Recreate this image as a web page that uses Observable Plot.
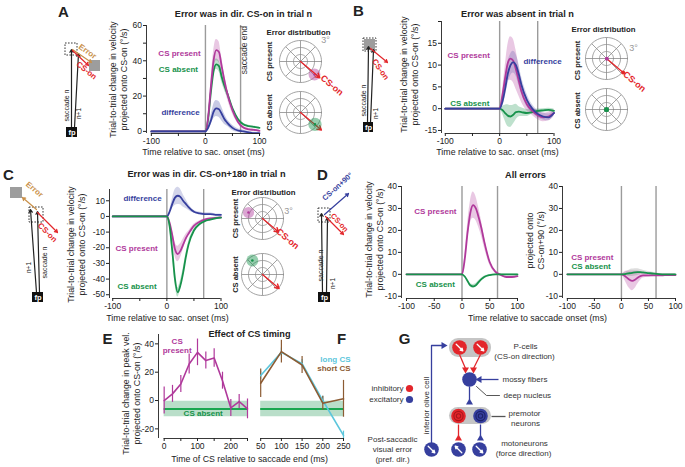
<!DOCTYPE html>
<html><head><meta charset="utf-8">
<script src="https://cdn.jsdelivr.net/npm/d3@7"></script>
<script src="https://cdn.jsdelivr.net/npm/@observablehq/plot@0.6"></script>
<style>
html,body{margin:0;padding:0;background:#fff;}
#fig{position:relative;width:685px;height:467px;overflow:hidden;background:#fff;}
#fig svg{overflow:visible;max-width:none !important;background:transparent !important;}
</style></head><body><div id="fig"></div>
<script>
// ================= DATA =================
const timeMs = [-100,-50,0,5,10,15,20,25,30,35,40,50,60,70,80,90,100];
// A: error in dir. CS-on
const aPresent    = [0,0,0,8,25,40,46,45,37,29,22,12,5.5,2.2,1.2,0.8,0.3];
const aPresentErr = [0,0,0,1,3,5,6,6,5,4,3,2,1,0.8,0.6,0.5,0.5];
const aAbsent     = [0,0,0,7,22,34,38,37,31,26,22,13,7,4,3,2.5,2];
const aAbsentErr  = [0,0,0,1,2,3,3,3,3,2.5,2,1.2,0.8,0.6,0.5,0.5,0.5];
const aDiff       = [0,0,0,2,6,11,13,12.5,10,7,5,2,0.5,0,-0.5,-1,-1];
const aDiffErr    = [0,0,0,1,2.5,4,4.5,4.5,4,3,2,1.5,1,0.8,0.6,0.5,0.5];
// B: error absent
const bPresent    = [0,0,0,3,7,10.5,11.5,11,9,6.5,4,1,-0.5,-1.5,-2,-1.8,-1];
const bPresentErr = [0,0,0,1,2.5,4,5,5,4.5,3.5,2.5,1.5,1,1,1,1,0.8];
const bDiff       = [0,0,0,1.5,4.5,8,10,10.7,10,8,5.5,2,0,-1.2,-1.8,-2,-1];
const bDiffErr    = [0,0,0,1,2,2.5,2.5,2.5,2.5,2.5,2,1.5,1,0.8,0.8,0.8,0.6];
const bAbsent     = [0,0,0,-0.3,-1,-1.6,-1.8,-1.4,-0.8,-0.7,-0.8,-1,-0.8,-0.5,-0.4,-0.3,-0.5];
const bAbsentErr  = [0,0,0,0.8,1.8,2.5,2.5,2.2,1.8,1.2,1,0.8,0.5,0.4,0.4,0.4,0.4];
// C: error in dir. CS-on+180
const cDiff       = [0,0,0,3,8,12,13.2,12.5,10,8,6,3,2,1.5,1.5,1,1];
const cDiffErr    = [0,0,0,1,3,5,5.5,5,4,3,2,1,0.8,0.8,0.8,0.6,0.6];
const cPresent    = [0,0,0,-4,-12,-21,-24,-22,-18,-14,-11,-6,-3.5,-2,-1.3,-1,-0.6];
const cPresentErr = [0,0,0,1,3,4.5,5,4.5,3.5,2.5,1.5,1,0.6,0.5,0.5,0.5,0.5];
const cAbsent     = [0,0,0,-6,-22,-40,-48.5,-44,-36,-26,-18,-9,-5,-3,-2,-1.2,-0.8];
const cAbsentErr  = [0,0,0,1,2,3,3,3,2.5,2,1.5,1,0.6,0.5,0.5,0.5,0.5];
// D: all errors, projected onto CS-on and CS-on+90
const dPresent      = [0,0,0,7,19,28,31.5,30,26,21,15,5.5,1.2,-0.3,-1.2,-1.2,-0.8];
const dPresentErr   = [0,0,0,1.5,3.5,5,6,5.5,4.5,3.5,2.5,1.2,0.6,0.5,0.5,0.5,0.5];
const dAbsent       = [0,0,0,-1,-3,-5,-5.5,-5,-3.5,-2.2,-1.2,-0.3,0,0,0,0,0];
const dAbsentErr    = [0,0,0,0.3,0.6,0.8,0.9,0.8,0.6,0.4,0.3,0.2,0.2,0.2,0.2,0.2,0.2];
const d90Present    = [0,0,0,-0.5,-1.5,-2.5,-3,-2.5,-1.5,-0.8,-0.5,-0.5,-0.5,-0.5,-0.4,-0.3,-0.3];
const d90PresentErr = [0,0,0,1.5,3,4,4.5,4,3,2,1.2,0.8,0.5,0.5,0.5,0.5,0.5];
const d90Absent     = [0,0,0,0.1,0.3,0.5,0.7,0.9,1,1,0.9,0.6,0.3,0.1,0,0,0];
const d90AbsentErr  = [0,0,0,0.5,1,1.5,1.7,1.7,1.5,1.2,1,0.7,0.5,0.3,0.3,0.3,0.3];
const sacEnd = {A:65, B:70, C:68, D:64};
// E: effect of CS timing
const eTime       = [0,25,50,75,100,125,150,175,200,225,250];
const ePresent    = [0,4.7,11.7,25.8,34,28.2,30,14,-5.2,-0.7,-5.9];
const ePresentErr = [9.5,6,6,7,9.4,6,6.5,6,6,5,7];
const csAbsentMean = -6;
const csAbsentErr  = 5.5;
// F: long vs short CS
const fTime      = [50,100,150,200,250];
const fLong      = [17.6,34,26,0,-24.6];
const fLongErr   = [3,3,3,3,3];
const fShort     = [12.2,34.5,25.1,-1.9,1.2];
const fShortErr  = [10,8,6,5,13];
// error distributions (deg, relative to trial-n target) for A, B, C
const errPresentX = [2.0, 0.05, -2.0];
const errPresentY = [-1.85, -0.05, 0.85];
const errPresentSpread = [0.85, 0.1, 0.8];
const errAbsentX = [2.07, 0, -1.45];
const errAbsentY = [-1.7, 0, 2.0];
const errAbsentSpread = [0.95, 0.15, 0.85];
const csOnDirDeg = -40;
// tick labels
const tSacTicks = [-100,-50,0,50,100];
const tSacLabels = ["-100","","0","","100"];
const tSacLabelsAll = ["-100","-50","0","50","100"];
const aYTicks = [0,10,20,30,40,50,60], aYLabels = ["0","","20","","40","","60"];
const bYTicks = [-5,0,5,10,15,20], bYLabels = ["-15","0","5","10","15",""];
const cYTicks = [-50,-40,-30,-20,-10,0,10], cYLabels = ["-50","-40","-30","-20","-10","0","10"];
const dYTicks = [-10,0,10,20,30,40], dYLabels = ["-10","0","10","20","30","40"];
const eYTicks = [-20,0,20,40], eYLabels = ["-20","0","20","40"];
const eXTicks = [0,50,100,150,200,250], eXLabels = ["0","","100","","200",""];
const fXTicks = [50,100,150,200,250], fXLabels = ["50","100","150","200","250"];

// ================= HELPERS =================
const FONT = "'Liberation Sans', Arial, Helvetica, sans-serif";
const PINK="#b0399b", GREEN="#17924b", BLUE="#363f9e", RED="#e3262b", CYAN="#5cc6dc",
      BROWN="#8c5b33", TAN="#c99049", GL="#9b9b9b", INK="#222";
const fig = document.getElementById("fig");
function place(node, left, top, z){
  const d = document.createElement("div");
  d.style.cssText = `position:absolute;left:${left}px;top:${top}px;width:${node.getAttribute("width")}px;z-index:${z};`;
  d.appendChild(node); fig.appendChild(d);
}
const baseStyle = {fontFamily: FONT, fontSize: "8.5px", background: "transparent", overflow: "visible", color: INK, maxWidth: "none"};
const rows = (t, cols) => t.map((tt, i) => { const o = {t: tt}; for (const k in cols) o[k] = cols[k][i]; return o; });

function panel({box:[x0,x1,y0,y1], xDomain, yDomain, marks, yAxisOff=false}){
  const ml=45, mr=45, mt=15, mb=22;
  const p = Plot.plot({
    width: ml+(x1-x0)+mr, height: mt+(y1-y0)+mb,
    marginLeft: ml, marginRight: mr, marginTop: mt, marginBottom: mb,
    x:{domain:xDomain}, y:{domain:yDomain, axis: yAxisOff ? null : undefined},
    color:{type:"identity"}, style: baseStyle, marks
  });
  place(p, x0-ml, y0-mt, 3);
}
const band = (r, v, e, c, op=0.28) => Plot.areaY(r, {x:"t", y1:d=>d[v]-d[e], y2:d=>d[v]+d[e], fill:c, fillOpacity:op, curve:"monotone-x"});
const trace = (r, v, c) => Plot.line(r, {x:"t", y:v, stroke:c, strokeWidth:1.8, curve:"monotone-x"});
const yAxis = (ticks, labels) => Plot.axisY({ticks, tickFormat: d => labels[ticks.indexOf(d)] ?? "", tickSize:3, tickPadding:1.5, label:null});
const xAxis = (ticks, labels) => Plot.axisX({ticks, tickFormat: d => labels[ticks.indexOf(d)] ?? "", tickSize:3, tickPadding:1.5, label:null});
const notes = (arr) => Plot.text(arr, {x:"x", y:"y", text:"s", fill:"c", fontWeight:"bold", fontSize:8, textAnchor:"middle"});
const axisLines = (xd, yd, xa, xb) => [
  Plot.ruleX([xd[0]], {y1:yd[0], y2:yd[1], stroke:INK, strokeWidth:0.9}),
  Plot.ruleY([yd[0]], {x1:xa, x2:xb, stroke:INK, strokeWidth:0.9})
];

// ================= PANEL A =================
{
  const r = rows(timeMs, {p:aPresent, pe:aPresentErr, a:aAbsent, ae:aAbsentErr, d:aDiff, de:aDiffErr});
  const xd=[-109,100], yd=[-1.2,60];
  panel({box:[146,259,25,133], xDomain:xd, yDomain:yd, marks:[
    Plot.ruleX([0, sacEnd.A], {stroke:GL, strokeWidth:1.4}),
    band(r,"p","pe",PINK), band(r,"a","ae",GREEN), band(r,"d","de",BLUE),
    trace(r,"a",GREEN), trace(r,"p",PINK), trace(r,"d",BLUE),
    ...axisLines(xd, yd, -100, 100),
    yAxis(aYTicks, aYLabels), xAxis(tSacTicks, tSacLabels),
    Plot.text(["saccade end"], {x:72, y:46, text:d=>d, rotate:-90, fontSize:8.5, fill:"#333"}),
    notes([{x:-48,y:44,s:"CS present",c:PINK},{x:-50,y:35,s:"CS absent",c:GREEN},{x:-46,y:11,s:"difference",c:BLUE}])
  ]});
}
// ================= PANEL B =================
{
  const r = rows(timeMs, {p:bPresent, pe:bPresentErr, a:bAbsent, ae:bAbsentErr, d:bDiff, de:bDiffErr});
  const xd=[-107,100], yd=[-5.7,20];
  panel({box:[440.5,553,21,133], xDomain:xd, yDomain:yd, marks:[
    Plot.ruleX([0, sacEnd.B], {stroke:GL, strokeWidth:1.4}),
    band(r,"a","ae",GREEN), band(r,"p","pe",PINK), band(r,"d","de",BLUE,0.22),
    trace(r,"a",GREEN), trace(r,"p",PINK), trace(r,"d",BLUE),
    ...axisLines(xd, yd, -100, 100),
    yAxis(bYTicks, bYLabels), xAxis(tSacTicks, tSacLabels),
    notes([{x:-57,y:12.2,s:"CS present",c:PINK},{x:79,y:10.8,s:"difference",c:BLUE},{x:-55,y:1.3,s:"CS absent",c:GREEN}])
  ]});
}
// ================= PANEL C =================
{
  const r = rows(timeMs, {p:cPresent, pe:cPresentErr, a:cAbsent, ae:cAbsentErr, d:cDiff, de:cDiffErr});
  const xd=[-106,100], yd=[-52.4,17.2];
  panel({box:[109,220.5,189,298], xDomain:xd, yDomain:yd, marks:[
    Plot.ruleX([0, sacEnd.C], {stroke:GL, strokeWidth:1.4}),
    band(r,"d","de",BLUE,0.22), band(r,"p","pe",PINK), band(r,"a","ae",GREEN),
    trace(r,"d",BLUE), trace(r,"p",PINK), trace(r,"a",GREEN),
    ...axisLines(xd, yd, -100, 100),
    yAxis(cYTicks, cYLabels), xAxis(tSacTicks, tSacLabels),
    notes([{x:-45,y:11.5,s:"difference",c:BLUE},{x:-56,y:-20.4,s:"CS present",c:PINK},{x:-55,y:-45,s:"CS absent",c:GREEN}])
  ]});
}
// ================= PANEL D (CS-on) =================
{
  const r = rows(timeMs, {p:dPresent, pe:dPresentErr, a:dAbsent, ae:dAbsentErr});
  const xd=[-109,100], yd=[-11,40];
  panel({box:[401,517,186,298], xDomain:xd, yDomain:yd, marks:[
    Plot.ruleX([0, sacEnd.D], {stroke:GL, strokeWidth:1.4}),
    band(r,"p","pe",PINK), band(r,"a","ae",GREEN),
    trace(r,"p",PINK), trace(r,"a",GREEN),
    ...axisLines(xd, yd, -100, 100),
    yAxis(dYTicks, dYLabels), xAxis(tSacTicks, tSacLabelsAll),
    notes([{x:-48,y:28.8,s:"CS present",c:PINK},{x:-48,y:-4.6,s:"CS absent",c:GREEN}])
  ]});
}
// ================= PANEL D (CS-on+90) =================
{
  const r = rows(timeMs, {p:d90Present, pe:d90PresentErr, a:d90Absent, ae:d90AbsentErr});
  const xd=[-109,100], yd=[-11,40];
  panel({box:[562,675,186,298], xDomain:xd, yDomain:yd, marks:[
    Plot.ruleX([0, sacEnd.D], {stroke:GL, strokeWidth:1.4}),
    band(r,"p","pe",PINK), band(r,"a","ae","#777",0.25),
    trace(r,"p",PINK), trace(r,"a",GREEN),
    ...axisLines(xd, yd, -100, 100),
    yAxis(dYTicks, dYLabels), xAxis(tSacTicks, tSacLabelsAll),
    notes([{x:-54,y:7.8,s:"CS present",c:PINK},{x:-56,y:3.7,s:"CS absent",c:GREEN}])
  ]});
}
// ================= PANEL E =================
{
  const r = rows(eTime, {v:ePresent, e:ePresentErr});
  const xd=[-17,250], yd=[-26.8,46.6];
  panel({box:[158.3,247.3,334,438], xDomain:xd, yDomain:yd, marks:[
    Plot.areaY([0,250], {x:d=>d, y1:csAbsentMean-csAbsentErr, y2:csAbsentMean+csAbsentErr, fill:GREEN, fillOpacity:0.3}),
    Plot.ruleY([csAbsentMean], {x1:0, x2:250, stroke:"#1aa64f", strokeWidth:2}),
    Plot.ruleX(r, {x:"t", y1:d=>d.v-d.e, y2:d=>d.v+d.e, stroke:PINK, strokeWidth:1.2}),
    Plot.line(r, {x:"t", y:"v", stroke:PINK, strokeWidth:1.6}),
    ...axisLines(xd, yd, 0, 250),
    yAxis(eYTicks, eYLabels), xAxis(eXTicks, eXLabels),
    Plot.text([{x:39,y:39,s:"CS\npresent"}], {x:"x", y:"y", text:"s", fill:PINK, fontWeight:"bold", fontSize:8, lineHeight:1.15}),
    Plot.text([{x:117,y:-9.2,s:"CS absent"}], {x:"x", y:"y", text:"s", fill:GREEN, fontWeight:"bold", fontSize:8})
  ]});
}
// ================= PANEL F =================
{
  const r = rows(fTime, {l:fLong, le:fLongErr, s:fShort, se:fShortErr});
  const xd=[44.7,250], yd=[-26.8,46.6];
  panel({box:[258,343,334,438], xDomain:xd, yDomain:yd, yAxisOff:true, marks:[
    Plot.areaY([50,250], {x:d=>d, y1:csAbsentMean-csAbsentErr, y2:csAbsentMean+csAbsentErr, fill:GREEN, fillOpacity:0.3}),
    Plot.ruleY([csAbsentMean], {x1:50, x2:250, stroke:"#1aa64f", strokeWidth:2}),
    Plot.ruleX(r, {x:"t", y1:d=>d.l-d.le, y2:d=>d.l+d.le, stroke:CYAN, strokeWidth:1.2}),
    Plot.ruleX(r, {x:"t", y1:d=>d.s-d.se, y2:d=>d.s+d.se, stroke:BROWN, strokeWidth:1.2}),
    Plot.line(r, {x:"t", y:"l", stroke:CYAN, strokeWidth:1.6}),
    Plot.line(r, {x:"t", y:"s", stroke:BROWN, strokeWidth:1.6}),
    Plot.ruleY([yd[0]], {x1:50, x2:250, stroke:INK, strokeWidth:0.9}),
    xAxis(fXTicks, fXLabels),
    Plot.text([{x:267,y:29,s:"long CS",c:CYAN},{x:267,y:22.6,s:"short CS",c:BROWN}], {x:"x", y:"y", text:"s", fill:"c", fontWeight:"bold", fontSize:8, textAnchor:"end"})
  ]});
}

// ================= POLAR INSETS (error distribution) =================
const ringAngles = d3.range(0, 361, 5);
const rad = a => a*Math.PI/180;
function polar(cx, cy, rpx, marks){
  const m = 45, s = 2*rpx + 2*m;
  const ring = [1,2,3].flatMap(R => ringAngles.map(a => ({R, x:R*Math.cos(rad(a)), y:R*Math.sin(rad(a))})));
  const spokes = d3.range(0,360,45).map(a => ({x:3*Math.cos(rad(a)), y:3*Math.sin(rad(a))}));
  const p = Plot.plot({width:s, height:s, margin:m, x:{domain:[-3,3], axis:null}, y:{domain:[-3,3], axis:null},
    color:{type:"identity"}, style:baseStyle, marks:[
      Plot.line(ring, {x:"x", y:"y", z:"R", stroke:"#8a8a8a", strokeWidth:0.8}),
      Plot.link(spokes, {x1:0, y1:0, x2:"x", y2:"y", stroke:"#8a8a8a", strokeWidth:0.8}),
      ...marks]});
  place(p, cx-rpx-m, cy-rpx-m, 2);
}
const RP = 21, pxPerDeg = RP/3;
const cosD = Math.cos(rad(csOnDirDeg)), sinD = Math.sin(rad(csOnDirDeg));
const blob = (x, y, sp, c) => [
  Plot.dot([{x, y}], {x:"x", y:"y", r:Math.max(sp*pxPerDeg, 1.5), fill:c, fillOpacity:0.45}),
  Plot.dot([{x, y}], {x:"x", y:"y", r:1.3, fill:c})
];
const csArrow = (L) => Plot.arrow([{x2:L*cosD, y2:L*sinD}], {x1:0, y1:0, x2:"x2", y2:"y2", stroke:RED, strokeWidth:1.4, headLength:5});
const csLabel = (x, y) => Plot.text([{x, y}], {x:"x", y:"y", text:()=>"CS-on", rotate:40, fill:RED, fontWeight:"bold", fontSize:9});
polar(300, 61, RP, [...blob(errPresentX[0], errPresentY[0], errPresentSpread[0], PINK), csArrow(3.6), csLabel(4.5, -3.4)]);
polar(300, 111.5, RP, [csArrow(3.9), ...blob(errAbsentX[0], errAbsentY[0], errAbsentSpread[0], GREEN)]);
polar(606, 58, RP, [
  Plot.link([{x2:3.1*cosD, y2:3.1*sinD}], {x1:0, y1:0, x2:"x2", y2:"y2", stroke:RED, strokeWidth:1.4}),
  Plot.dot([{x:3.1*cosD, y:3.1*sinD}], {x:"x", y:"y", r:2, fill:RED}),
  Plot.dot([{x:errPresentX[1], y:errPresentY[1]}], {x:"x", y:"y", r:2, fill:PINK}),
  csLabel(4.0, -3.3)]);
polar(606, 109, RP, [Plot.dot([{x:errAbsentX[1], y:errAbsentY[1]}], {x:"x", y:"y", r:2.6, fill:GREEN})]);
polar(262, 218, RP, [...blob(errPresentX[2], errPresentY[2], errPresentSpread[2], PINK), csArrow(3.0), csLabel(3.6, -2.9)]);
polar(262, 274, RP, [...blob(errAbsentX[2], errAbsentY[2], errAbsentSpread[2], GREEN), csArrow(3.1)]);

// ================= OVERLAY: schematics, titles, circuit =================
const fpBoxes = [{x1:66,x2:77,y1:127,y2:137},{x1:363,x2:373,y1:122,y2:132},{x1:32,x2:43,y1:292,y2:302},{x1:318,x2:330,y1:292,y2:302}];
const targets = [{x1:89,x2:100,y1:60,y2:71},{x1:364,x2:375,y1:39,y2:50},{x1:10,x2:22,y1:187,y2:198}];
const dashBoxes = [{x1:65,x2:77,y1:43,y2:55},{x1:363,x2:376,y1:38,y2:51},{x1:29,x2:43,y1:207,y2:222},{x1:318,x2:330,y1:208,y2:222}];
const schemArrows = [
  {x1:71,y1:127,x2:71,y2:49,c:INK},{x1:74,y1:127,x2:78,y2:53,c:INK},{x1:72,y1:49,x2:91,y2:62,c:TAN},{x1:72,y1:50,x2:88,y2:65,c:RED},
  {x1:367,y1:122,x2:368,y2:46,c:INK},{x1:370,y1:122,x2:373,y2:49,c:INK},{x1:370,y1:48,x2:387,y2:62,c:RED},
  {x1:36,y1:292,x2:30,y2:209,c:INK},{x1:39,y1:292,x2:37,y2:211,c:INK},{x1:36,y1:209,x2:22,y2:197,c:TAN},{x1:37,y1:212,x2:57,y2:232,c:RED},
  {x1:322,y1:292,x2:321,y2:213,c:INK},{x1:326,y1:292,x2:327,y2:217,c:INK},{x1:324,y1:214,x2:348,y2:193,c:BLUE},{x1:325,y1:216,x2:343,y2:234,c:RED}
];
const gPills = [{x1:449,x2:491,y1:338,y2:357},{x1:449,x2:491,y1:407,y2:424}];
const gCells = [
  {x:459,y:347,c:RED},{x:480,y:347,c:RED},{x:469,y:379,c:BLUE},
  {x:458,y:415.5,c:RED},{x:480,y:415.5,c:BLUE},
  {x:458,y:449,c:BLUE},{x:479,y:449,c:BLUE},{x:431,y:449,c:BLUE}
];
const gPremotor = [{x:458,y:415.5,c:"#a8161b"},{x:480,y:415.5,c:"#1c2168"}];
const gCellArrows = [
  {x:459,y:347,dx:1,dy:1},{x:480,y:347,dx:1,dy:1},
  {x:458,y:449,dx:-1,dy:-1},{x:479,y:449,dx:1,dy:1},{x:431,y:449,dx:1,dy:1}
];
const gLinks = [
  {x1:459,y1:354,x2:465,y2:368,c:RED},{x1:480,y1:354,x2:473,y2:368,c:RED},
  {x1:498,y1:379,x2:477,y2:379,c:BLUE},{x1:469,y1:386,x2:469,y2:402,c:BLUE},
  {x1:458,y1:424,x2:458,y2:437,c:RED},{x1:480,y1:424,x2:480,y2:437,c:BLUE},
  {x1:491,y1:416,x2:505,y2:416,c:"#555"}
];
const gSyn = [
  {x:465,y:369,c:RED,r:180},{x:473,y:369,c:RED,r:180},{x:479,y:379,c:BLUE,r:-90},
  {x:469,y:402,c:BLUE,r:0},{x:458,y:438,c:RED,r:0},{x:480,y:438,c:BLUE,r:0},{x:443,y:345,c:BLUE,r:90}
];
const gOlive = [{x:431,y:442},{x:431,y:345},{x:442,y:345}];
const gPointer = [{x:476,y:386},{x:486,y:395},{x:499,y:395}];
const gLegendDots = [{x:409,y:388,c:RED},{x:409,y:399,c:BLUE}];

const boldTexts = [
  {s:"A",x:63,y:12,f:15,c:INK,r:0},{s:"B",x:358,y:11,f:15,c:INK,r:0},{s:"C",x:8,y:175,f:15,c:INK,r:0},
  {s:"D",x:322,y:175,f:15,c:INK,r:0},{s:"E",x:107,y:339,f:15,c:INK,r:0},{s:"F",x:341,y:339,f:15,c:INK,r:0},{s:"G",x:404,y:339,f:15,c:INK,r:0},
  {s:"Error was in dir. CS-on in trial n",x:243,y:14,f:9.2,c:INK,r:0},
  {s:"Error was absent in trial n",x:517,y:14,f:9.2,c:INK,r:0},
  {s:"Error was in dir. CS-on+180 in trial n",x:206,y:174,f:9.2,c:INK,r:0},
  {s:"All errors",x:525,y:175,f:9.2,c:INK,r:0},
  {s:"Effect of CS timing",x:249,y:334,f:9.2,c:INK,r:0},
  {s:"Error distribution",x:298,y:32,f:7.8,c:INK,r:0},
  {s:"Error distribution",x:603,y:29,f:7.8,c:INK,r:0},
  {s:"Error distribution",x:263,y:192,f:7.8,c:INK,r:0},
  {s:"CS present",x:269,y:61,f:7.5,c:INK,r:-90},{s:"CS absent",x:269,y:112,f:7.5,c:INK,r:-90},
  {s:"CS present",x:577,y:60,f:7.5,c:INK,r:-90},{s:"CS absent",x:577,y:110,f:7.5,c:INK,r:-90},
  {s:"CS present",x:235,y:218,f:7.5,c:INK,r:-90},{s:"CS absent",x:235,y:274,f:7.5,c:INK,r:-90},
  {s:"Error",x:87,y:51,f:8,c:TAN,r:35},{s:"CS-on",x:86,y:70,f:8,c:RED,r:38},
  {s:"CS-on",x:380,y:69,f:8,c:RED,r:55},
  {s:"Error",x:34,y:189,f:8,c:TAN,r:40},{s:"CS-on",x:47,y:232,f:8,c:RED,r:45},
  {s:"CS-on+90°",x:337,y:186,f:7.5,c:BLUE,r:-42},{s:"CS-on",x:339,y:222,f:7.5,c:RED,r:48},
  {s:"fp",x:71.5,y:132,f:7.5,c:"#fff",r:0},{s:"fp",x:368,y:127,f:7.5,c:"#fff",r:0},
  {s:"fp",x:37.5,y:297,f:7.5,c:"#fff",r:0},{s:"fp",x:324,y:297,f:7.5,c:"#fff",r:0}
];
const yTitle = "Trial-to-trial change in velocity\nprojected onto CS-on (°/s)";
const xTitleSac = "Time relative to sac. onset (ms)";
const regTexts = [
  {s:xTitleSac,x:203,y:151,f:8.8,c:INK,r:0},{s:xTitleSac,x:497,y:151,f:8.8,c:INK,r:0},{s:xTitleSac,x:167,y:317,f:8.8,c:INK,r:0},
  {s:"Time relative to saccade onset (ms)",x:537,y:317,f:8.8,c:INK,r:0},
  {s:"Time of CS relative to saccade end (ms)",x:249,y:458,f:8.8,c:INK,r:0},
  {s:yTitle,x:117.5,y:79,f:8.8,c:INK,r:-90},{s:yTitle,x:408,y:74,f:8.8,c:INK,r:-90},
  {s:yTitle,x:75.5,y:244,f:8.8,c:INK,r:-90},{s:yTitle,x:373.5,y:239,f:8.8,c:INK,r:-90},
  {s:"projected onto\nCS-on+90 (°/s)",x:534.5,y:240,f:8.8,c:INK,r:-90},
  {s:"Trial-to-trial change in peak vel.\nprojected onto CS-on (°/s)",x:130,y:393,f:8.8,c:INK,r:-90},
  {s:"3°",x:325,y:39,f:9,c:"#999",r:0},{s:"3°",x:633,y:47,f:9,c:"#999",r:0},{s:"3°",x:288,y:210,f:9,c:"#999",r:0},
  {s:"saccade n",x:66,y:105,f:7,c:INK,r:-90},{s:"n+1",x:78,y:113,f:6.5,c:INK,r:-90},
  {s:"saccade n",x:363,y:100,f:7,c:INK,r:-90},{s:"n+1",x:375,y:113,f:6.5,c:INK,r:-90},
  {s:"n+1",x:28,y:267,f:6.5,c:INK,r:-90},{s:"saccade n",x:43.5,y:262,f:7,c:INK,r:-90},
  {s:"saccade n",x:319.5,y:265,f:7,c:INK,r:-90},{s:"n+1",x:332,y:283,f:6.5,c:INK,r:-90},
  {s:"P-cells",x:525,y:345,f:8,c:"#333",r:0},{s:"(CS-on direction)",x:524,y:355,f:8,c:"#333",r:0},
  {s:"premotor",x:524,y:412,f:8,c:"#333",r:0},{s:"neurons",x:525,y:422,f:8,c:"#333",r:0},
  {s:"motoneurons",x:524,y:442,f:8,c:"#333",r:0},{s:"(force direction)",x:523,y:452,f:8,c:"#333",r:0},
  {s:"Post-saccadic",x:392,y:438,f:8,c:"#333",r:0},{s:"visual error",x:392,y:448,f:8,c:"#333",r:0},{s:"(pref. dir.)",x:392,y:458,f:8,c:"#333",r:0},
  {s:"inferior olive cell",x:425,y:405,f:8,c:"#333",r:-90}
];
const startTexts = [{s:"mossy fibers",x:502,y:379},{s:"deep nucleus",x:503,y:395}];
const endTexts = [{s:"inhibitory",x:403,y:388},{s:"excitatory",x:403,y:399}];

const W = 685, H = 467;
const overlay = Plot.plot({
  width:W, height:H, margin:0,
  x:{domain:[0,W], range:[0,W], axis:null}, y:{domain:[0,H], range:[0,H], axis:null},
  color:{type:"identity"}, style:baseStyle,
  marks:[
    Plot.rect(targets, {x1:"x1", x2:"x2", y1:"y1", y2:"y2", fill:"#9d9d9d"}),
    Plot.rect(dashBoxes, {x1:"x1", x2:"x2", y1:"y1", y2:"y2", fill:"none", stroke:INK, strokeWidth:0.9, strokeDasharray:"1.6,1.4"}),
    Plot.arrow(schemArrows, {x1:"x1", y1:"y1", x2:"x2", y2:"y2", stroke:"c", strokeWidth:1.2, headLength:4}),
    Plot.rect(fpBoxes, {x1:"x1", x2:"x2", y1:"y1", y2:"y2", fill:"#111"}),
    Plot.rect(gPills, {x1:"x1", x2:"x2", y1:"y1", y2:"y2", fill:"#c5c5c5", rx:9}),
    Plot.line(gOlive, {x:"x", y:"y", stroke:BLUE, strokeWidth:1.3}),
    Plot.line(gPointer, {x:"x", y:"y", stroke:"#444", strokeWidth:0.9}),
    Plot.link(gLinks, {x1:"x1", y1:"y1", x2:"x2", y2:"y2", stroke:"c", strokeWidth:1.3}),
    Plot.dot(gSyn, {x:"x", y:"y", fill:"c", symbol:"triangle", r:2.6, rotate:"r"}),
    Plot.dot(gCells, {x:"x", y:"y", fill:"c", r:7.3}),
    Plot.dot(gPremotor, {x:"x", y:"y", stroke:"c", r:4.6, strokeWidth:1.1}),
    Plot.dot(gPremotor, {x:"x", y:"y", stroke:"c", r:2.2, strokeWidth:1.1}),
    Plot.arrow(gCellArrows, {x1:d=>d.x-d.dx*3.3, y1:d=>d.y-d.dy*3.3, x2:d=>d.x+d.dx*3.3, y2:d=>d.y+d.dy*3.3, stroke:"#fff", strokeWidth:1.3, headLength:3.2}),
    Plot.dot(gLegendDots, {x:"x", y:"y", fill:"c", r:3.6}),
    Plot.text(boldTexts, {x:"x", y:"y", text:"s", fill:"c", fontSize:"f", rotate:"r", fontWeight:"bold"}),
    Plot.text(regTexts, {x:"x", y:"y", text:"s", fill:"c", fontSize:"f", rotate:"r", lineHeight:1.25}),
    Plot.text(startTexts, {x:"x", y:"y", text:"s", fill:"#333", fontSize:8, textAnchor:"start"}),
    Plot.text(endTexts, {x:"x", y:"y", text:"s", fill:"#333", fontSize:8, textAnchor:"end"})
  ]
});
place(overlay, 0, 0, 1);
</script></body></html>
